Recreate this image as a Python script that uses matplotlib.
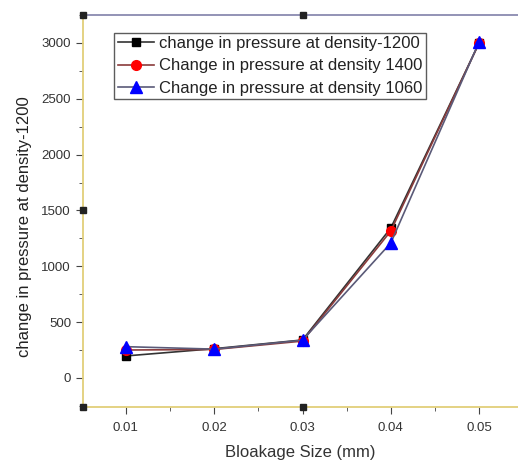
import matplotlib
matplotlib.use("Agg")
import matplotlib.pyplot as plt
from matplotlib.ticker import MultipleLocator

plt.rcParams['font.family'] = ['Liberation Sans', 'DejaVu Sans']

x = [0.01, 0.02, 0.03, 0.04, 0.05]
p1200 = [197, 262, 340, 1343, 3000]
p1400 = [250, 255, 330, 1316, 3000]
p1060 = [280, 258, 338, 1209, 3010]
labels = ["change in pressure at density-1200",
          "Change in pressure at density 1400",
          "Change in pressure at density 1060"]

fig = plt.figure(figsize=(5.18, 4.63), dpi=100)
ax = fig.add_axes([0.160, 0.121, 0.84, 0.8466])

ax.plot(x, p1200, color='#333333', lw=1.2, marker='s', ms=6, mfc='black', mec='black', label=labels[0])
ax.plot(x, p1400, color='#8a3b3b', lw=1.2, marker='o', ms=7, mfc='red', mec='red', label=labels[1])
ax.plot(x, p1060, color='#5a5a78', lw=1.2, marker='^', ms=8, mfc='blue', mec='blue', label=labels[2])

ax.set_xlim(0.00513, 0.0544)
ax.set_ylim(-260, 3250)
ax.xaxis.set_minor_locator(MultipleLocator(0.005))
ax.yaxis.set_major_locator(MultipleLocator(500))
ax.yaxis.set_minor_locator(MultipleLocator(250))
ax.set_xticks([0.01, 0.02, 0.03, 0.04, 0.05])
ax.set_xticklabels(['0.01', '0.02', '0.03', '0.04', '0.05'])

ax.tick_params(axis='both', which='both', direction='out', colors='#444444', labelsize=9.5, labelcolor='#333333')
ax.tick_params(which='major', length=5)
ax.tick_params(which='minor', length=3)
ax.tick_params(axis='x', pad=6)

ax.spines['right'].set_visible(False)
ax.spines['left'].set_color('#e2cf7a')
ax.spines['bottom'].set_color('#e2cf7a')
ax.spines['top'].set_color('#8a8ab0')
for s in ['left', 'bottom', 'top']:
    ax.spines[s].set_linewidth(1.3)

# small marker artifacts on the frame
ax.plot([0.00513, 0.03, 0.00513, 0.00513, 0.03], [3250, 3250, 1500, -260, -260],
        ls='none', marker='s', ms=4, mfc='#222222', mec='#222222', clip_on=False, zorder=5)

ax.set_xlabel("Bloakage Size (mm)", fontsize=12, color='#333333', labelpad=8)
ax.set_ylabel("change in pressure at density-1200", fontsize=12, color='#222222')
ax.yaxis.set_label_coords(-0.118, 0.459)

leg = ax.legend(loc='upper left', bbox_to_anchor=(0.072, 0.955), fontsize=12, frameon=True,
                fancybox=False, edgecolor='#333333', handlelength=2.2, borderpad=0.2,
                labelspacing=0.45, handletextpad=0.3, borderaxespad=0)
leg.get_frame().set_linewidth(1.0)
for t in leg.get_texts():
    t.set_color('#222222')

fig.savefig("out.png", dpi=100)
